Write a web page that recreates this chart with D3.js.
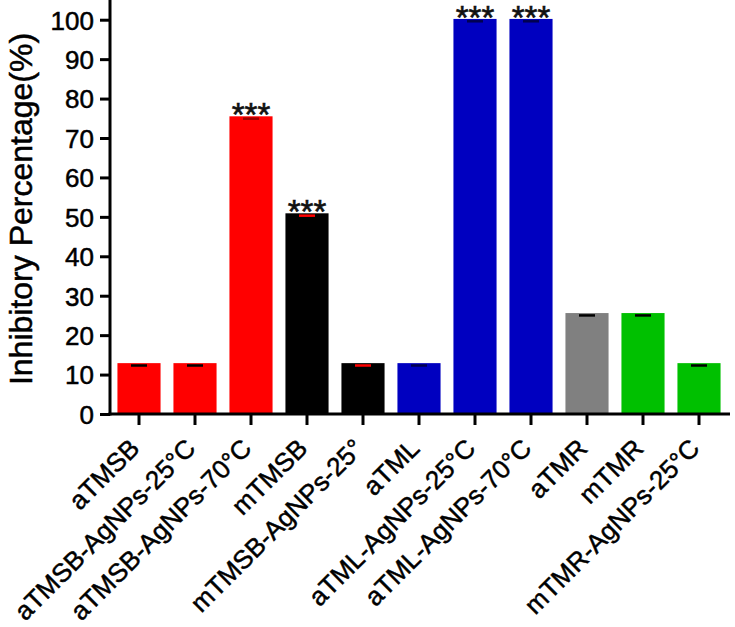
<!DOCTYPE html>
<html><head><meta charset="utf-8">
<script src="https://cdn.jsdelivr.net/npm/d3@7"></script>
<style>body{margin:0;background:#fff}svg{display:block}text{font-family:"Liberation Sans",Arial,sans-serif}</style>
</head><body><svg id="c" width="735" height="627"></svg>
<script>
const categories = ["aTMSB","aTMSB-AgNPs-25°C","aTMSB-AgNPs-70°C","mTMSB","mTMSB-AgNPs-25°","aTML","aTML-AgNPs-25°C","aTML-AgNPs-70°C","aTMR","mTMR","mTMR-AgNPs-25°C"];
const values = [12.9, 12.9, 75.5, 50.9, 12.9, 12.9, 100.2, 100.2, 25.6, 25.6, 12.9];
const errors = [0.6, 0.6, 0.6, 0.6, 0.6, 0.6, 0.6, 0.6, 0.6, 0.6, 0.6];
const barColors = ["#ff0000","#ff0000","#ff0000","#000000","#000000","#0000c0","#0000c0","#0000c0","#808080","#00c000","#00c000"];
const capColors = ["#000","#000","#a00000","#ff0000","#ff0000","#000050","#000050","#000050","#000","#000","#000"];
const significance = ["","","***","***","","","***","***","","",""];
const yTicks = [0,10,20,30,40,50,60,70,80,90,100];
const yTitle = "Inhibitory Percentage(%)";

const svg = d3.select("#c");
const x = d3.scaleBand().domain(categories).range([111, 727]).paddingInner(0.23).paddingOuter(0.115);
const y = d3.scaleLinear().domain([0, 105]).range([414, 0]);

// bars
svg.selectAll("rect.bar").data(categories).enter().append("rect")
  .attr("x", d => x(d)).attr("width", x.bandwidth())
  .attr("y", (d,i) => y(values[i])).attr("height", (d,i) => y(0) - y(values[i]))
  .attr("fill", (d,i) => barColors[i]);
// error caps
svg.selectAll("line.cap").data(categories).enter().append("line")
  .attr("x1", d => x(d) + x.bandwidth()/2 - 8).attr("x2", d => x(d) + x.bandwidth()/2 + 8)
  .attr("y1", (d,i) => y(values[i] - errors[i])).attr("y2", (d,i) => y(values[i] - errors[i]))
  .attr("stroke", (d,i) => capColors[i]).attr("stroke-width", 2.5);
// stars
svg.selectAll("text.sig").data(categories).enter().append("text")
  .attr("x", d => x(d) + x.bandwidth()/2).attr("y", (d,i) => y(values[i]) + 10)
  .attr("text-anchor", "middle").attr("font-size", 33).attr("fill", "#111")
  .attr("stroke", "#111").attr("stroke-width", 0.6)
  .text((d,i) => significance[i]);

// y axis
const ya = svg.append("g").attr("transform", "translate(110,0)")
  .call(d3.axisLeft(y).tickValues(yTicks).tickSize(10).tickPadding(6).tickSizeOuter(0));
ya.select(".domain").remove();
ya.append("line").attr("x1",0).attr("x2",0).attr("y1",0).attr("y2",415.5).attr("stroke","#000").attr("stroke-width",3);
ya.selectAll(".tick line").attr("stroke-width",3);
ya.selectAll(".tick text").attr("font-size",26).attr("fill","#000").attr("stroke","#000").attr("stroke-width",0.5)
  .attr("font-family","Liberation Sans, Arial, sans-serif").attr("dy","0.36em");

// x axis
const xa = svg.append("g").attr("transform", "translate(0,414)")
  .call(d3.axisBottom(x).tickSize(11).tickPadding(4).tickSizeOuter(0));
xa.select(".domain").remove();
xa.append("line").attr("x1",108.5).attr("x2",730).attr("y1",0).attr("y2",0).attr("stroke","#000").attr("stroke-width",3);
xa.selectAll(".tick line").attr("stroke-width",3);
xa.selectAll(".tick text").attr("font-size",26).attr("fill","#000").attr("stroke","#000").attr("stroke-width",0.5)
  .attr("font-family","Liberation Sans, Arial, sans-serif")
  .attr("text-anchor","end").attr("x",0).attr("y",0).attr("dy","0")
  .attr("transform","translate(2,36) rotate(-45)");

// y title
svg.append("text").attr("transform","translate(32,209) rotate(-90)").attr("text-anchor","middle")
  .attr("font-size",32).attr("fill","#000").attr("stroke","#000").attr("stroke-width",0.5).text(yTitle);
</script></body></html>
